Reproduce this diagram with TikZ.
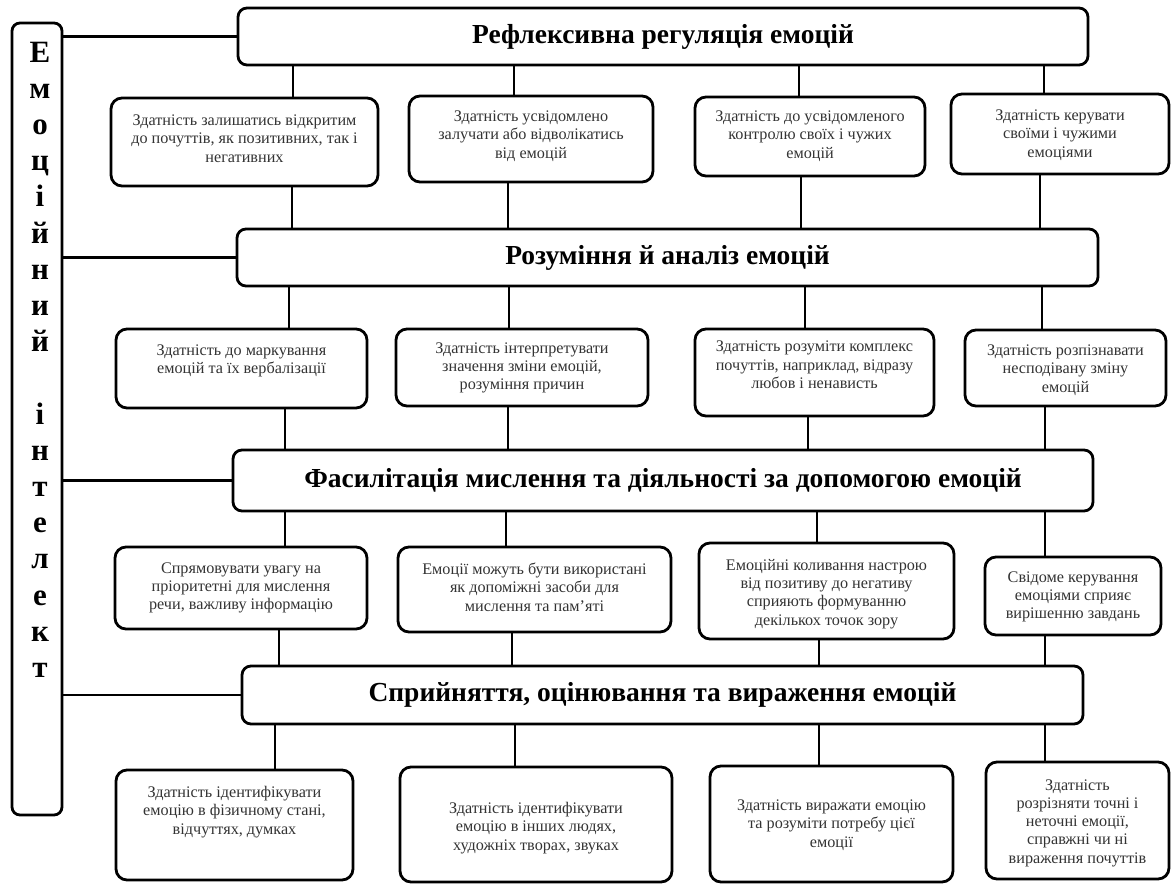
\documentclass[tikz,border=0pt]{standalone}
\usepackage{fontspec}
\setmainfont{Liberation Serif}
\begin{document}
\begin{tikzpicture}[x=1pt,y=-1pt,
  rbox/.style={draw=black, line width=2.8pt, rounded corners=#1, fill=white, inner sep=0pt},
  hdr/.style={rbox=9pt, font=\fontsize{27.5}{30}\selectfont\bfseries},
  sbox/.style={rbox=11pt},
  stxt/.style={align=center, inner sep=0pt, font=\fontsize{16.2}{18.3}\selectfont, text=black!80},
  conn/.style={line width=2.8pt}]
\useasboundingbox (0,0) rectangle (1175,886);

% left vertical box
\node[rbox=8pt, minimum width=50pt, minimum height=792pt] (ei) at (37,419) {};
\node[font=\fontsize{31}{36.2}\selectfont\bfseries, align=center, anchor=north, inner sep=0pt] (eit) at (40,41.5)
  {Е\\м\\о\\ц\\і\\й\\н\\и\\й\\[36.2pt]і\\н\\т\\е\\л\\е\\к\\т};

% headers
\node[hdr, minimum width=850pt, minimum height=57pt] (h1) at (663,36.5) {Рефлексивна регуляція емоцій};
\node[hdr, minimum width=861pt, minimum height=57pt] (h2) at (667.5,257.5) {Розуміння й аналіз емоцій};
\node[hdr, minimum width=860pt, minimum height=61pt] (h3) at (663,480.5) {Фасилітація мислення та діяльності за допомогою емоцій};
\node[hdr, minimum width=841pt, minimum height=58pt] (h4) at (662.5,695) {Сприйняття, оцінювання та вираження емоцій};

% row 1
\node[sbox, minimum width=267pt, minimum height=88pt] (b11) at (244.5,142) {};
\node[sbox, minimum width=244pt, minimum height=86pt] (b12) at (531,139) {};
\node[sbox, minimum width=230pt, minimum height=79pt] (b13) at (810,136.5) {};
\node[sbox, minimum width=218pt, minimum height=80pt] (b14) at (1060,134) {};
\node[stxt] (t11) at (244.5,138.5) {Здатність залишатись відкритим\\до почуттів, як позитивних, так і\\негативних};
\node[stxt] (t12) at (531,136) {Здатність усвідомлено\\залучати або відволікатись\\від емоцій};
\node[stxt] (t13) at (810,136) {Здатність до усвідомленого\\контролю своїх і чужих\\емоцій};
\node[stxt] (t14) at (1060,135) {Здатність керувати\\своїми і чужими\\емоціями};

% row 2
\node[sbox, minimum width=251pt, minimum height=79pt] (b21) at (241.5,368.5) {};
\node[sbox, minimum width=252pt, minimum height=77pt] (b22) at (522,367.5) {};
\node[sbox, minimum width=239pt, minimum height=87pt] (b23) at (814.5,372.5) {};
\node[sbox, minimum width=201pt, minimum height=76pt] (b24) at (1065.5,368) {};
\node[stxt] (t21) at (241.5,361) {Здатність до маркування\\емоцій та їх вербалізації};
\node[stxt] (t22) at (522,368) {Здатність інтерпретувати\\значення зміни емоцій,\\розуміння причин};
\node[stxt] (t23) at (814.5,365) {Здатність розуміти комплекс\\почуттів, наприклад, відразу\\любов і ненависть};
\node[stxt] (t24) at (1065.5,370) {Здатність розпізнавати\\несподівану зміну\\емоцій};

% row 3
\node[sbox, minimum width=252pt, minimum height=82pt] (b31) at (241,588) {};
\node[sbox, minimum width=273pt, minimum height=85pt] (b32) at (534.5,589.5) {};
\node[sbox, minimum width=255pt, minimum height=96pt] (b33) at (826.5,591) {};
\node[sbox, minimum width=176pt, minimum height=78pt] (b34) at (1073,596) {};
\node[stxt] (t31) at (241,588) {Спрямовувати увагу на\\пріоритетні для мислення\\речи, важливу інформацію};
\node[stxt] (t32) at (534.5,587) {Емоції можуть бути використані\\як допоміжні засоби для\\мислення та пам’яті};
\node[stxt] (t33) at (826.5,594) {Емоційні коливання настрою\\від позитиву до негативу\\сприяють формуванню\\декількох точок зору};
\node[stxt] (t34) at (1073,597) {Свідоме керування\\емоціями сприяє\\вирішенню завдань};

% row 4
\node[sbox, minimum width=237pt, minimum height=110pt] (b41) at (234.5,825) {};
\node[sbox, minimum width=272pt, minimum height=115pt] (b42) at (536,824.5) {};
\node[sbox, minimum width=243pt, minimum height=116pt] (b43) at (831.5,824) {};
\node[sbox, minimum width=183pt, minimum height=117pt] (b44) at (1077.5,820.5) {};
\node[stxt] (t41) at (234.5,812) {Здатність ідентифікувати\\емоцію в фізичному стані,\\відчуттях, думках};
\node[stxt] (t42) at (536,828) {Здатність ідентифікувати\\емоцію в інших людях,\\художніх творах, звуках};
\node[stxt] (t43) at (831.5,825) {Здатність виражати емоцію\\та розуміти потребу цієї\\емоції};
\node[stxt] (t44) at (1077.5,823) {Здатність\\розрізняти точні і\\неточні емоції,\\справжні чи ні\\вираження почуттів};

% connector x positions
\foreach \n/\x in {a1/293,a2/514,a3/799,a4/1044,
                   c1/292,c2/508,c3/801,c4/1040,
                   d1/289,d2/509,d3/805,d4/1042,
                   e1/285,e2/508,e3/808,e4/1045,
                   f1/285,f2/506,f3/817,f4/1045,
                   g1/279,g2/512,g3/819,g4/1045,
                   k1/275,k2/515,k3/819,k4/1045}
  \coordinate (\n) at (\x,0);

% left connectors
\draw[conn] (ei.east |- h1.west) -- (h1.west);
\draw[conn] (ei.east |- h2.west) -- (h2.west);
\draw[conn] (ei.east |- h3.west) -- (h3.west);
\draw[conn] (ei.east |- h4.west) -- (h4.west);

% vertical connectors
\draw[conn] (h1.south -| a1) -- (b11.north -| a1);
\draw[conn] (h1.south -| a2) -- (b12.north -| a2);
\draw[conn] (h1.south -| a3) -- (b13.north -| a3);
\draw[conn] (h1.south -| a4) -- (b14.north -| a4);
\draw[conn] (b11.south -| c1) -- (h2.north -| c1);
\draw[conn] (b12.south -| c2) -- (h2.north -| c2);
\draw[conn] (b13.south -| c3) -- (h2.north -| c3);
\draw[conn] (b14.south -| c4) -- (h2.north -| c4);
\draw[conn] (h2.south -| d1) -- (b21.north -| d1);
\draw[conn] (h2.south -| d2) -- (b22.north -| d2);
\draw[conn] (h2.south -| d3) -- (b23.north -| d3);
\draw[conn] (h2.south -| d4) -- (b24.north -| d4);
\draw[conn] (b21.south -| e1) -- (h3.north -| e1);
\draw[conn] (b22.south -| e2) -- (h3.north -| e2);
\draw[conn] (b23.south -| e3) -- (h3.north -| e3);
\draw[conn] (b24.south -| e4) -- (h3.north -| e4);
\draw[conn] (h3.south -| f1) -- (b31.north -| f1);
\draw[conn] (h3.south -| f2) -- (b32.north -| f2);
\draw[conn] (h3.south -| f3) -- (b33.north -| f3);
\draw[conn] (h3.south -| f4) -- (b34.north -| f4);
\draw[conn] (b31.south -| g1) -- (h4.north -| g1);
\draw[conn] (b32.south -| g2) -- (h4.north -| g2);
\draw[conn] (b33.south -| g3) -- (h4.north -| g3);
\draw[conn] (b34.south -| g4) -- (h4.north -| g4);
\draw[conn] (h4.south -| k1) -- (b41.north -| k1);
\draw[conn] (h4.south -| k2) -- (b42.north -| k2);
\draw[conn] (h4.south -| k3) -- (b43.north -| k3);
\draw[conn] (h4.south -| k4) -- (b44.north -| k4);
\end{tikzpicture}
\end{document}
